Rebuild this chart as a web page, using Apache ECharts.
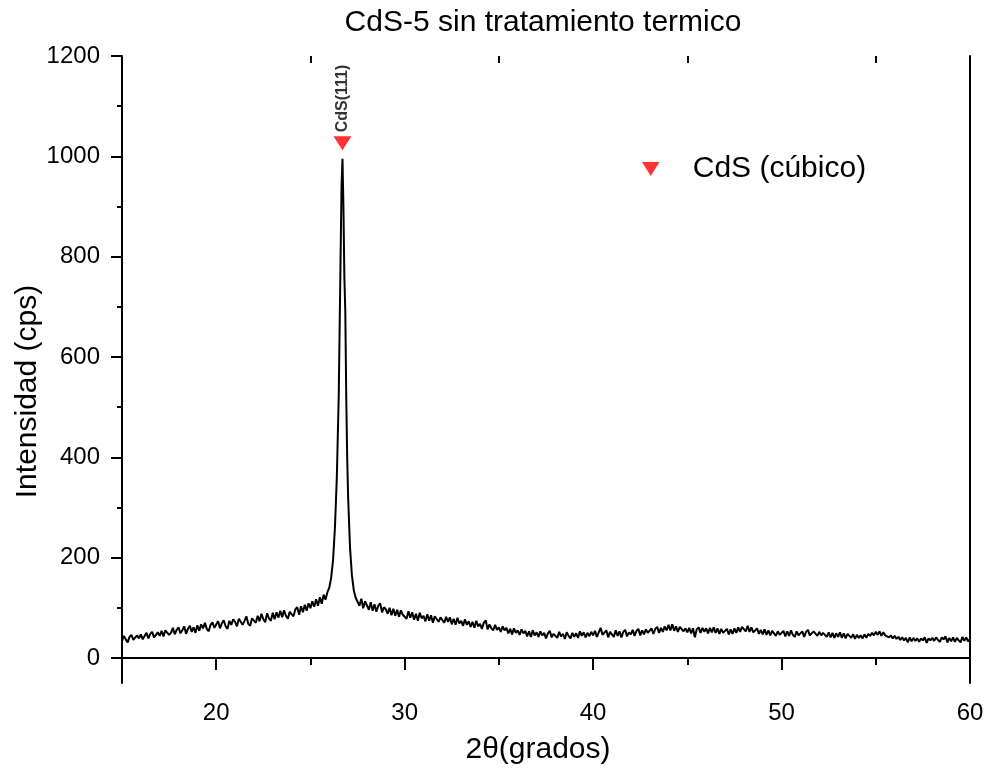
<!DOCTYPE html>
<html>
<head>
<meta charset="utf-8">
<script src="https://cdn.jsdelivr.net/npm/echarts@6/dist/echarts.min.js"></script>
<style>html,body{margin:0;padding:0;background:#fff}#c{width:990px;height:770px}</style>
</head>
<body>
<div id="c"></div>
<script>
// ---- data ----
const titleText = 'CdS-5 sin tratamiento termico';
const xName = '2θ(grados)';
const yName = 'Intensidad (cps)';
const legendName = 'CdS (cúbico)';
const peakLabel = 'CdS(111)';

const xMajorTicks = [20, 30, 40, 50, 60];
const xMinorTicks = [15, 25, 35, 45, 55];
const yMajorTicks = [0, 200, 400, 600, 800, 1000, 1200];
const yMinorTicks = [100, 300, 500, 700, 900, 1100];

// scan 1: 15.0 .. 25.9, step 0.1
const scan1Start = 15.0, scan1Step = 0.1;
const scan1Counts = [
  34, 44, 37, 31, 42, 46, 36, 33, 45, 39,
  47, 37, 44, 50, 39, 48, 52, 41, 40, 51,
  44, 54, 43, 55, 58, 46, 50, 60, 47, 56,
  61, 49, 55, 63, 48, 58, 64, 52, 61, 50,
  65, 54, 67, 59, 70, 58, 53, 66, 71, 60,
  62, 73, 59, 69, 75, 63, 58, 74, 66, 77,
  72, 63, 78, 80, 66, 74, 83, 68, 64, 79,
  81, 70, 84, 73, 88, 77, 71, 89, 79, 74,
  90, 77, 91, 80, 94, 81, 95, 84, 78, 92,
  95, 83, 97, 101, 86, 103, 91, 106, 94, 109,
  99, 113, 102, 117, 104, 121, 108, 126, 116, 131
];

// peak region (explicit angles)
const peakAngles = [26.0, 26.1, 26.2, 26.3, 26.4, 26.5, 26.6, 26.65, 26.7, 26.75, 26.8, 26.85, 26.9, 26.95, 27.0, 27.1, 27.2, 27.3, 27.4, 27.5];
const peakCounts = [140, 160, 195, 260, 360, 520, 800, 940, 995, 900, 760, 690, 520, 400, 320, 220, 165, 135, 120, 112];

// scan 2: 27.6 .. 60.0, step 0.1
const scan2Start = 27.6, scan2Step = 0.1;
const scan2Counts = [
  104, 118, 99, 113,
  110, 96, 111, 94, 107, 92, 104, 109, 91, 101,
  97, 88, 100, 85, 98, 84, 96, 82, 95, 86,
  89, 78, 93, 80, 91, 76, 88, 74, 90, 79,
  84, 73, 87, 74, 85, 70, 83, 86, 72, 81,
  79, 70, 82, 72, 81, 67, 78, 66, 80, 69,
  74, 64, 77, 66, 73, 62, 72, 60, 74, 63,
  68, 58, 70, 75, 57, 67, 59, 55, 66, 56,
  61, 52, 63, 55, 60, 49, 58, 47, 59, 50,
  55, 46, 57, 49, 54, 43, 53, 42, 55, 45,
  51, 42, 53, 45, 50, 39, 49, 54, 41, 48,
  49, 40, 52, 43, 48, 38, 51, 44, 39, 50,
  42, 49, 40, 53, 44, 51, 41, 50, 43, 52,
  45, 54, 42, 51, 60, 46, 43, 55, 41, 52,
  50, 42, 55, 44, 53, 41, 52, 56, 43, 51,
  47, 56, 44, 54, 58, 45, 55, 47, 57, 50,
  51, 59, 48, 58, 62, 50, 60, 52, 63, 55,
  66, 55, 67, 54, 63, 52, 62, 64, 53, 59,
  51, 60, 49, 59, 41, 57, 61, 50, 60, 52,
  59, 49, 60, 51, 61, 50, 59, 48, 58, 50,
  49, 58, 47, 57, 48, 59, 50, 61, 52, 62,
  63, 53, 64, 52, 61, 51, 49, 59, 48, 56,
  47, 57, 46, 55, 45, 54, 56, 44, 53, 46,
  45, 54, 43, 53, 44, 55, 46, 42, 53, 45,
  44, 53, 42, 52, 56, 45, 43, 53, 55, 44,
  52, 45, 50, 53, 42, 51, 41, 50, 40, 49,
  42, 51, 40, 49, 39, 48, 50, 40, 47, 38,
  46, 40, 45, 39, 47, 40, 48, 44, 50, 45,
  52, 46, 53, 44, 51, 45, 47, 41, 45, 39,
  44, 38, 42, 36, 41, 35, 40, 31, 41, 33,
  40, 34, 39, 32, 39, 35, 41, 30, 39, 35,
  40, 34, 41, 36, 32, 41, 37, 43, 31, 40,
  33, 41, 32, 40, 35, 31, 42, 34, 41, 33,
  38
];

// reference marker
const markerAngle = 26.7;
const markerIntensity = 1026;

// ---- build ----
const pattern = [];
scan1Counts.forEach((v, i) => pattern.push([+(scan1Start + i * scan1Step).toFixed(2), v]));
peakCounts.forEach((v, i) => pattern.push([peakAngles[i], v]));
scan2Counts.forEach((v, i) => pattern.push([+(scan2Start + i * scan2Step).toFixed(2), v]));

const FONT = "'Liberation Sans', Arial, sans-serif";
const triPath = 'path://M0,0 L20,0 L10,16 Z';
const lineBlack = { show: true, lineStyle: { color: '#000', width: 2 } };
const plain = v => String(v);

const chart = echarts.init(document.getElementById('c'), null, { renderer: 'canvas' });
chart.setOption({
  animation: false,
  backgroundColor: '#fff',
  textStyle: { fontFamily: FONT, color: '#000' },
  title: {
    text: titleText, left: 538, top: 3, textAlign: 'center',
    textStyle: { fontFamily: FONT, fontSize: 30, fontWeight: 'normal', color: '#000' }
  },
  legend: {
    left: 637, top: 149,
    itemWidth: 18, itemHeight: 14, itemGap: 10,
    data: [{ name: legendName, icon: triPath }],
    textStyle: { fontFamily: FONT, fontSize: 30, color: '#000', padding: [0, 0, 0, 28] }
  },
  grid: { left: 122, top: 56, width: 848, height: 627, containLabel: false, outerBoundsMode: 'none' },
  xAxis: [
    { type: 'value', position: 'bottom', min: 15, max: 60,
      name: xName, nameLocation: 'middle', nameGap: 52, nameMoveOverlap: false,
      nameTextStyle: { fontFamily: FONT, fontSize: 30, color: '#000', padding: [0, 16, 0, 0] },
      axisLine: lineBlack,
      axisTick: { show: true, inside: false, length: 12, customValues: xMajorTicks, lineStyle: { color: '#000', width: 2 } },
      axisLabel: { show: true, customValues: xMajorTicks, formatter: plain, margin: 18, fontSize: 24, color: '#000', fontFamily: FONT },
      splitLine: { show: false } },
    { type: 'value', position: 'bottom', min: 15, max: 60,
      axisLine: { show: false },
      axisTick: { show: true, inside: false, length: 7, customValues: xMinorTicks, lineStyle: { color: '#000', width: 2 } },
      axisLabel: { show: false }, splitLine: { show: false } },
    { type: 'value', position: 'top', min: 15, max: 60,
      axisLine: lineBlack,
      axisTick: { show: true, inside: true, length: 12, customValues: xMajorTicks, lineStyle: { color: '#000', width: 2 } },
      axisLabel: { show: false }, splitLine: { show: false } },
    { type: 'value', position: 'top', min: 15, max: 60,
      axisLine: { show: false },
      axisTick: { show: true, inside: true, length: 7, customValues: xMinorTicks, lineStyle: { color: '#000', width: 2 } },
      axisLabel: { show: false }, splitLine: { show: false } }
  ],
  yAxis: [
    { type: 'value', position: 'left', min: -50, max: 1200,
      name: yName, nameLocation: 'middle', nameGap: 79, nameMoveOverlap: false,
      nameTextStyle: { fontFamily: FONT, fontSize: 30, color: '#000', padding: [0, 44, 0, 0] },
      axisLine: lineBlack,
      axisTick: { show: true, inside: false, length: 11, customValues: yMajorTicks, lineStyle: { color: '#000', width: 2 } },
      axisLabel: { show: true, customValues: yMajorTicks, formatter: plain, margin: 22, fontSize: 24, color: '#000', fontFamily: FONT },
      splitLine: { show: false } },
    { type: 'value', position: 'left', min: -50, max: 1200,
      axisLine: { show: false },
      axisTick: { show: true, inside: false, length: 5, customValues: yMinorTicks, lineStyle: { color: '#000', width: 2 } },
      axisLabel: { show: false }, splitLine: { show: false } },
    { type: 'value', position: 'right', min: -50, max: 1200,
      axisLine: lineBlack, axisTick: { show: false }, axisLabel: { show: false }, splitLine: { show: false } }
  ],
  series: [
    { type: 'line', name: 'CdS-5', data: pattern, xAxisIndex: 0, yAxisIndex: 0,
      showSymbol: false, symbol: 'none', sampling: null,
      lineStyle: { color: '#000', width: 2 }, z: 3 },
    { type: 'scatter', name: legendName, xAxisIndex: 0, yAxisIndex: 0,
      data: [[markerAngle, markerIntensity]],
      symbol: triPath, symbolSize: [18, 14],
      itemStyle: { color: '#ff0000' }, z: 5,
      label: { show: true, formatter: peakLabel, position: 'top', distance: 4, rotate: 90,
        align: 'left', verticalAlign: 'middle',
        fontFamily: FONT, fontSize: 16, fontWeight: 'bold', color: '#000' } }
  ]
});
</script>
</body>
</html>
